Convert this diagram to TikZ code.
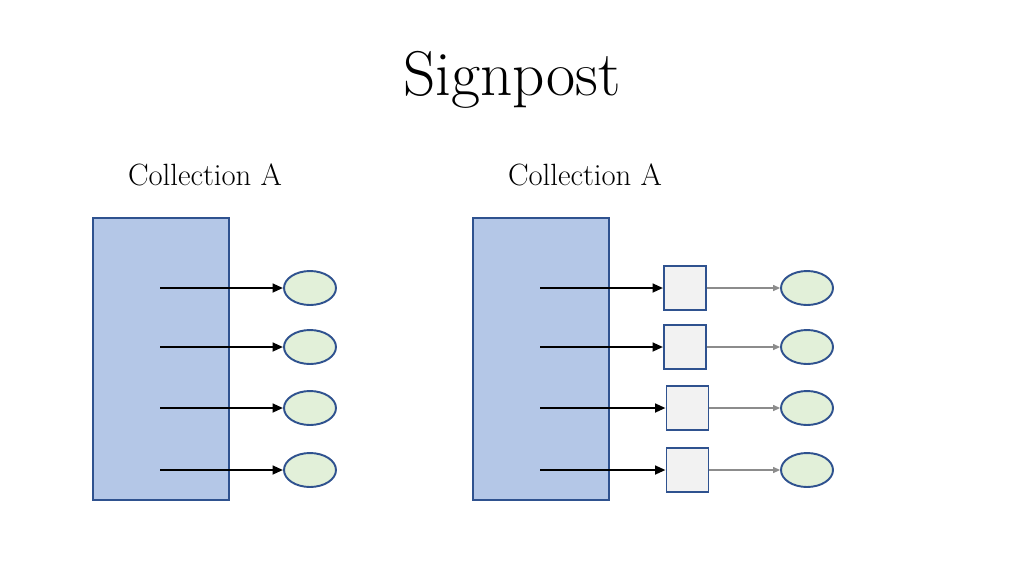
\documentclass[tikz,border=0pt]{standalone}
\usetikzlibrary{arrows.meta,shapes.geometric}
\definecolor{panel}{HTML}{B4C7E7}
\definecolor{edge}{HTML}{2F528F}
\definecolor{leaffill}{HTML}{E2F0D9}
\definecolor{stubfill}{HTML}{F2F2F2}

\begin{document}
\begin{tikzpicture}[x=0.02cm,y=-0.02cm,
  coll/.style={draw=edge,fill=panel,line width=1.1pt,minimum width=2.72cm,minimum height=5.64cm,inner sep=0pt},
  leaf/.style={ellipse,draw=edge,fill=leaffill,line width=1.1pt,minimum width=1.04cm,minimum height=0.68cm,inner sep=0pt},
  stub/.style={draw=edge,fill=stubfill,line width=1.1pt,minimum width=0.84cm,minimum height=0.88cm,inner sep=0pt},
  ptr/.style={-{Triangle[length=6pt,width=5pt]},line width=1.3pt,black},
  link/.style={-{Triangle[length=4pt,width=3.5pt]},line width=0.6pt,black!45},
  lab/.style={font=\fontsize{17.5}{20}\selectfont,anchor=base}]

\path[use as bounding box] (0,0) rectangle (1024,576);

%% headings
\node[font=\fontsize{36}{40}\selectfont,anchor=base] (title) at (512,95) {Signpost};
\node[lab] (labA) at (205,185) {Collection A};
\node[lab] (labB) at (585,185) {Collection A};

%% collections
\node[coll] (collA) at (161,359) {};
\node[coll] (collB) at (541,359) {};

%% direct pointers
\foreach \i/\y in {1/288,2/347,3/408,4/470} {
  \coordinate (srcA\i) at (160,\y);
  \node[leaf] (leafA\i) at (310,\y) {};
  \draw[ptr] (srcA\i) -- (leafA\i.west);
}

%% signposts
\foreach \i/\y/\sx in {1/288/685,2/347/685,3/408/687.5,4/470/687.5} {
  \coordinate (srcB\i) at (540,\y);
  \node[stub] (stub\i) at (\sx,\y) {};
  \node[leaf] (leafB\i) at (807,\y) {};
  \draw[ptr] (srcB\i) -- (stub\i.west);
  \draw[link] (stub\i.east) -- (leafB\i.west);
}
\end{tikzpicture}
\end{document}
